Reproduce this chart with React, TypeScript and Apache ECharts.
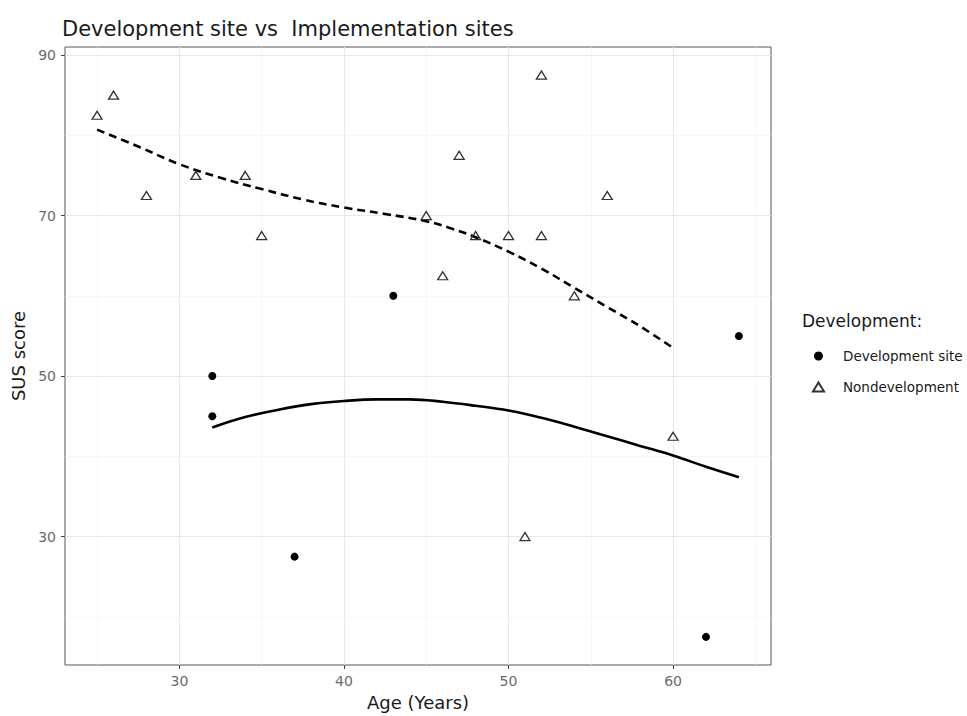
import React, { useEffect, useRef } from "react";
import * as echarts from "echarts";

// Development site (filled circles): [age, SUS]
const devPoints: [number, number][] = [
  [32, 50], [32, 45], [37, 27.5], [43, 60], [62, 17.5], [64, 55],
];
// Nondevelopment (open triangles): [age, SUS]
const nonDevPoints: [number, number][] = [
  [25, 82.5], [26, 85], [28, 72.5], [31, 75], [34, 75], [35, 67.5],
  [45, 70], [46, 62.5], [47, 77.5], [48, 67.5], [50, 67.5], [51, 30],
  [52, 87.5], [52, 67.5], [54, 60], [56, 72.5], [60, 42.5],
];
// Loess fit: Development site (solid)
const devFit: [number, number][] = [
  [32, 43.6], [34, 44.9], [36, 45.8], [38, 46.5], [40, 46.9], [42, 47.1],
  [44, 47.1], [46, 46.8], [48, 46.3], [50, 45.7], [52, 44.8], [54, 43.7],
  [56, 42.5], [58, 41.3], [60, 40.1], [62, 38.7], [64, 37.4],
];
// Loess fit: Nondevelopment (dashed)
const nonDevFit: [number, number][] = [
  [25, 80.7], [27.5, 78.6], [30, 76.4], [32.5, 74.7], [35, 73.3], [37.5, 72.0],
  [40, 71.0], [42.5, 70.2], [45, 69.3], [46.5, 68.4], [48, 67.3], [50, 65.5],
  [52, 63.4], [54, 61.0], [56, 58.6], [58, 56.2], [60, 53.5],
];

const xMajor = [30, 40, 50, 60];
const xMinor = [25, 35, 45, 55, 65];
const yMajor = [30, 50, 70, 90];
const yMinor = [20, 40, 60, 80];

const FONT = "'DejaVu Sans', 'Liberation Sans', Arial, sans-serif";

export default function App() {
  const ref = useRef<HTMLDivElement>(null);
  useEffect(() => {
    if (!ref.current) return;
    const chart = echarts.init(ref.current, undefined, { renderer: "svg" });
    const gridMinor = { color: "#f1f1f1", width: 0.6, type: "solid" };
    const gridMajor = { color: "#e8e8e8", width: 1.1, type: "solid" };
    chart.setOption({
      animation: false,
      backgroundColor: "#ffffff",
      textStyle: { fontFamily: FONT },
      title: [
        {
          text: "Development site vs  Implementation sites",
          left: 62,
          top: 18,
          padding: 0,
          textStyle: { fontSize: 21, fontWeight: "normal", color: "#1a1a1a", fontFamily: FONT },
        },
        {
          text: "Development:",
          left: 802,
          top: 312,
          padding: 0,
          textStyle: { fontSize: 17, fontWeight: "normal", color: "#1a1a1a", fontFamily: FONT },
        },
      ],
      legend: {
        orient: "vertical",
        left: 812,
        top: 348,
        padding: 0,
        itemWidth: 11,
        itemHeight: 9,
        itemGap: 15,
        symbolKeepAspect: true,
        textStyle: { fontSize: 13.5, color: "#1a1a1a", fontFamily: FONT, lineHeight: 16, padding: [0, 0, 0, 14] },
        data: [
          { name: "Development site", icon: "circle" },
          { name: "Nondevelopment", icon: "triangle" },
        ],
      },
      grid: {
        left: 65,
        top: 47,
        width: 706,
        height: 619,
        show: true,
        borderColor: "#555",
        borderWidth: 1,
        containLabel: false,
      },
      xAxis: {
        type: "value",
        min: 23.05,
        max: 65.95,
        name: "Age (Years)",
        nameLocation: "middle",
        nameGap: 28,
        nameTextStyle: { fontSize: 18, color: "#1a1a1a", fontFamily: FONT },
        axisLine: { show: false },
        axisTick: { show: true, length: 4, customValues: xMajor, lineStyle: { color: "#444" } },
        axisLabel: { customValues: xMajor, fontSize: 14, color: "#6a6a6a", margin: 9, fontFamily: FONT },
        splitLine: { show: false },
      },
      yAxis: {
        type: "value",
        min: 14,
        max: 91,
        name: "SUS score",
        nameLocation: "middle",
        nameGap: 34,
        nameRotate: 90,
        nameTextStyle: { fontSize: 18, color: "#1a1a1a", fontFamily: FONT },
        axisLine: { show: false },
        axisTick: { show: true, length: 4, customValues: yMajor, lineStyle: { color: "#444" } },
        axisLabel: { customValues: yMajor, fontSize: 14, color: "#6a6a6a", margin: 9, fontFamily: FONT },
        splitLine: { show: false },
      },
      series: [
        {
          name: "grid",
          type: "line",
          data: [],
          z: 1,
          silent: true,
          markLine: {
            z: 1,
            silent: true,
            symbol: ["none", "none"],
            label: { show: false },
            emphasis: { disabled: true },
            data: [
              ...xMinor.map((v) => ({ xAxis: v, lineStyle: gridMinor })),
              ...yMinor.map((v) => ({ yAxis: v, lineStyle: gridMinor })),
              ...xMajor.map((v) => ({ xAxis: v, lineStyle: gridMajor })),
              ...yMajor.map((v) => ({ yAxis: v, lineStyle: gridMajor })),
            ],
          },
        },
        {
          name: "Nondevelopment fit",
          type: "line",
          data: nonDevFit,
          smooth: 0.4,
          showSymbol: false,
          z: 3,
          lineStyle: { color: "#000", width: 2.6, type: [8, 5] },
        },
        {
          name: "Development site fit",
          type: "line",
          data: devFit,
          smooth: 0.4,
          showSymbol: false,
          z: 3,
          lineStyle: { color: "#000", width: 2.6 },
        },
        {
          name: "Development site",
          type: "scatter",
          data: devPoints,
          symbol: "circle",
          symbolSize: 8,
          z: 4,
          itemStyle: { color: "#000", opacity: 1 },
        },
        {
          name: "Nondevelopment",
          type: "scatter",
          data: nonDevPoints,
          symbol: "triangle",
          symbolSize: [10, 8],
          z: 4,
          itemStyle: { color: "rgba(255,255,255,0)", borderColor: "#333", borderWidth: 1.3, opacity: 1 },
        },
      ],
    });
    return () => chart.dispose();
  }, []);
  return (
    <div
      ref={ref}
      style={{ position: "fixed", left: 0, top: 0, width: 967, height: 716, background: "#fff" }}
    />
  );
}
